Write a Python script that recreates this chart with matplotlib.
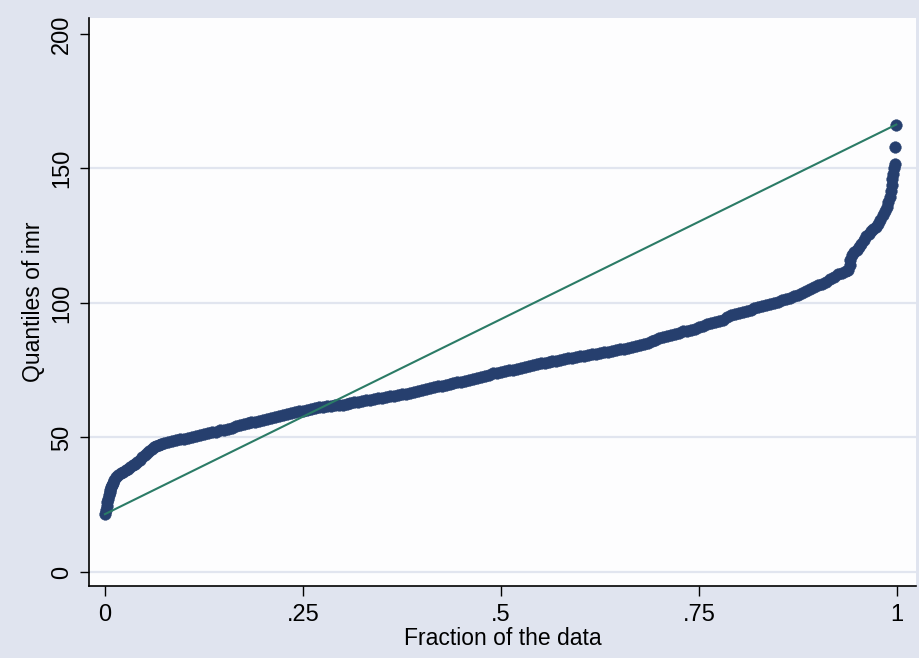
import matplotlib
matplotlib.use("Agg")
import matplotlib.pyplot as plt

plt.rcParams['font.family'] = ['Liberation Sans', 'DejaVu Sans']

# fraction of the data and the matching quantiles of imr
frac = [
    0.000, 0.001, 0.002, 0.003, 0.004, 0.005, 0.006, 0.007, 0.008, 0.009,
    0.010, 0.012, 0.014, 0.017, 0.020, 0.023, 0.026, 0.029, 0.032, 0.035,
    0.038, 0.041, 0.044, 0.047, 0.050, 0.053, 0.056, 0.059, 0.062, 0.065,
    0.068, 0.071,
    0.075, 0.080, 0.085, 0.090, 0.095, 0.100, 0.105, 0.110, 0.115, 0.120,
    0.125, 0.130, 0.135, 0.140, 0.145, 0.150, 0.155, 0.160, 0.165, 0.170,
    0.175, 0.180, 0.185, 0.190, 0.195, 0.200, 0.205, 0.210, 0.215, 0.220,
    0.225, 0.230, 0.235, 0.240, 0.245, 0.250, 0.255, 0.260, 0.265, 0.270,
    0.275, 0.280, 0.285, 0.290, 0.295, 0.300, 0.305, 0.310, 0.315, 0.320,
    0.325, 0.330, 0.335, 0.340, 0.345, 0.350, 0.355, 0.360, 0.365, 0.370,
    0.375, 0.380, 0.385, 0.390, 0.395, 0.400, 0.405, 0.410, 0.415, 0.420,
    0.425, 0.430, 0.435, 0.440, 0.445, 0.450, 0.455, 0.460, 0.465, 0.470,
    0.475, 0.480, 0.485, 0.490, 0.495, 0.500, 0.505, 0.510, 0.515, 0.520,
    0.525, 0.530, 0.535, 0.540, 0.545, 0.550, 0.555, 0.560, 0.565, 0.570,
    0.575, 0.580, 0.585, 0.590, 0.595, 0.600, 0.605, 0.610, 0.615, 0.620,
    0.625, 0.630, 0.635, 0.640, 0.645, 0.650, 0.655, 0.660, 0.665, 0.670,
    0.675, 0.680, 0.685, 0.690, 0.695, 0.700, 0.705, 0.710, 0.715, 0.720,
    0.725, 0.730, 0.735, 0.740, 0.745, 0.750, 0.755, 0.760, 0.765, 0.770,
    0.775, 0.780, 0.785, 0.790, 0.795, 0.800, 0.805, 0.810, 0.815, 0.820,
    0.825, 0.830, 0.835, 0.840, 0.845, 0.850, 0.855, 0.860, 0.865, 0.870,
    0.875, 0.880, 0.885, 0.890, 0.895, 0.900, 0.905, 0.910, 0.915, 0.920,
    0.925, 0.930, 0.935,
    0.938, 0.940, 0.941, 0.943, 0.946, 0.949, 0.952, 0.955, 0.958, 0.961,
    0.964, 0.967, 0.970, 0.973, 0.976, 0.979, 0.982, 0.985, 0.987, 0.989,
    0.991, 0.992, 0.993, 0.994, 0.995, 0.996, 0.997, 0.998, 0.999,
]
imr = [
    21.5, 23.0, 24.5, 26.0, 27.2, 28.5, 29.6, 30.6, 31.6, 32.5,
    33.2, 34.2, 35.2, 36.1, 36.8, 37.3, 37.8, 38.3, 39.0, 39.7,
    40.3, 41.0, 41.8, 42.6, 43.4, 44.3, 45.1, 45.8, 46.4, 46.9,
    47.3, 47.6,
    47.8, 48.2, 48.6, 49.0, 49.3, 49.6, 49.9, 50.2, 50.5, 50.8,
    51.2, 51.5, 51.9, 52.2, 52.6, 52.9, 53.3, 53.7, 54.1, 54.5,
    54.9, 55.2, 55.6, 55.9, 56.2, 56.5, 56.8, 57.1, 57.5, 57.9,
    58.3, 58.8, 59.1, 59.4, 59.7, 60.0, 60.3, 60.6, 60.9, 61.2,
    61.5, 61.7, 61.8, 61.9, 62.0, 62.2, 62.5, 62.8, 63.1, 63.3,
    63.5, 63.8, 64.1, 64.3, 64.5, 64.8, 65.0, 65.3, 65.5, 65.8,
    66.0, 66.3, 66.6, 66.9, 67.2, 67.6, 68.0, 68.3, 68.6, 69.0,
    69.3, 69.6, 69.9, 70.2, 70.5, 70.8, 71.1, 71.5, 71.8, 72.2,
    72.6, 73.0, 73.4, 73.8, 74.1, 74.4, 74.6, 74.9, 75.2, 75.5,
    75.8, 76.2, 76.6, 77.0, 77.3, 77.5, 77.7, 78.0, 78.3, 78.6,
    78.9, 79.1, 79.4, 79.6, 79.8, 80.1, 80.3, 80.6, 80.9, 81.1,
    81.3, 81.6, 81.9, 82.1, 82.4, 82.7, 83.0, 83.4, 83.7, 84.1,
    84.4, 84.8, 85.2, 85.7, 86.2, 86.8, 87.2, 87.7, 88.1, 88.6,
    89.0, 89.4, 89.7, 90.0, 90.4, 90.9, 91.5, 92.0, 92.4, 92.8,
    93.2, 93.7, 94.8, 95.4, 95.9, 96.3, 96.7, 97.1, 97.5, 98.0,
    98.4, 98.8, 99.2, 99.6, 100.0, 100.5, 101.0, 101.5, 102.0, 102.4,
    103.0, 103.7, 104.4, 105.1, 105.8, 106.5, 107.2, 107.9, 108.8, 109.8,
    110.6, 111.3, 111.8,
    112.3, 114.0, 116.0, 117.8, 118.8, 119.8, 120.8, 122.0, 123.4, 124.8,
    125.8, 126.8, 127.6, 128.3, 129.5, 131.0, 132.5, 134.0, 135.5, 137.5,
    139.5, 141.5, 144.0, 146.0, 148.0, 150.0, 151.5, 158.0, 166.3,
]

x_ticks = [0, 0.25, 0.5, 0.75, 1]
x_labels = ["0", ".25", ".5", ".75", "1"]
y_ticks = [0, 50, 100, 150, 200]
y_grid = [0, 50, 100, 150]

bg = "#e0e4ef"
navy = "#263f6e"
green = "#2b7b66"

fig = plt.figure(figsize=(9.2, 6.58), dpi=100)
fig.patch.set_facecolor(bg)
ax = fig.add_axes([89 / 920, 1 - 586 / 658, 827 / 920, 568 / 658])
ax.set_facecolor("#fdfdfe")

for g in y_grid:
    ax.axhline(g, color="#e1e5ef", lw=1.6, zorder=1)

ax.plot(frac, imr, "o", ms=8.4, color=navy, mec=navy, mew=0.3, zorder=2)
# reference line from smallest to largest value
ax.plot([frac[0], frac[-1]], [imr[0], imr[-1]], color=green, lw=1.5, zorder=3)

ax.set_xlim(-0.0201, 1.0239)
ax.set_ylim(-5.2, 205.9)

ax.set_xticks(x_ticks)
ax.set_xticklabels(x_labels)
ax.set_yticks(y_ticks)
ax.set_yticklabels([str(t) for t in y_ticks], rotation=90, va="center")

for s in ["top", "right"]:
    ax.spines[s].set_visible(False)
for s in ["left", "bottom"]:
    ax.spines[s].set_color("black")
    ax.spines[s].set_linewidth(1.2)

ax.tick_params(axis="x", length=7, width=1, pad=6, labelsize=17)
ax.tick_params(axis="y", length=6.5, width=1, pad=5, labelsize=17)

ax.set_xlabel("Fraction of the data", fontsize=16.5, labelpad=1)
ax.set_ylabel("Quantiles of imr", fontsize=16.5, labelpad=4)

fig.savefig("out.png", dpi=100, facecolor=bg)
